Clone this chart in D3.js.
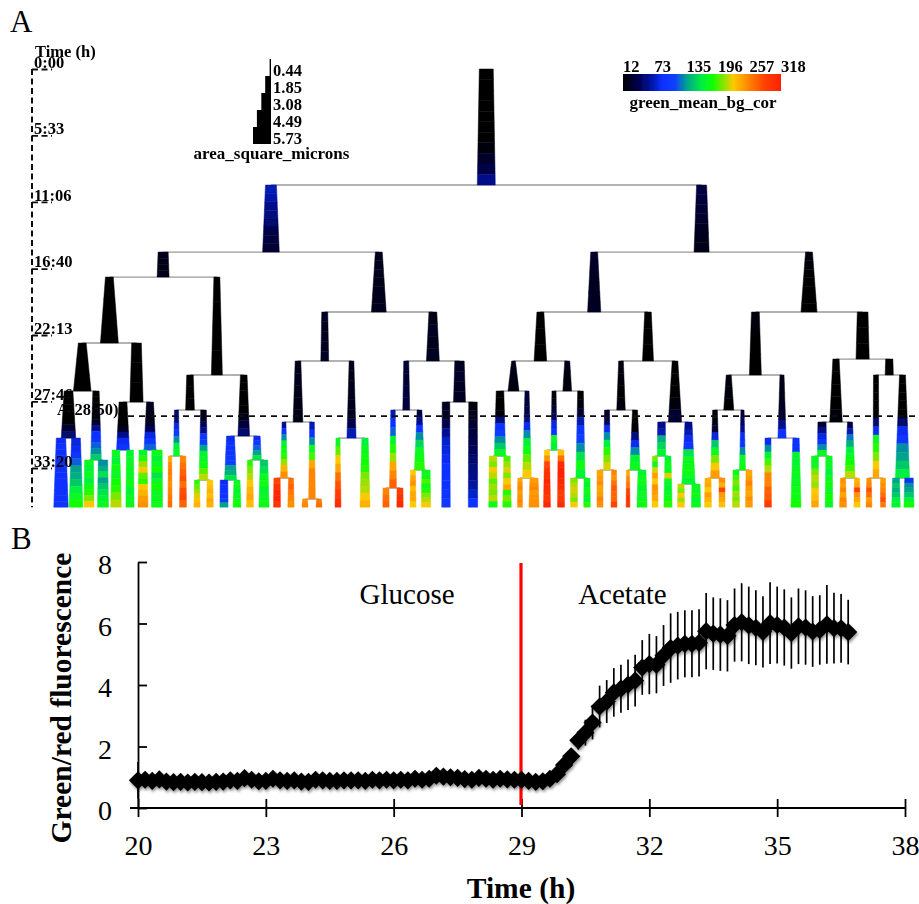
<!DOCTYPE html>
<html>
<head>
<meta charset="utf-8">
<style>
    body { margin: 0; background: #fff; }
    text { font-family: "Liberation Serif", serif; fill: #000; }
</style>
<script src="https://cdn.jsdelivr.net/npm/d3@7"></script>
</head>
<body>
<div id="draw"></div>
<script>
// panel A: time axis
const timeTickHours = [0, 5.55, 11.1, 16.67, 22.22, 27.77, 33.33];
const timeTickLabels = ['0:00', '5:33', '11:06', '16:40', '22:13', '27:46', '33:20'];
const lastHour = 36.6;
const cutoffHour = 29;

// panel A: legends
const areaLegendValues = [0.44, 1.85, 3.08, 4.49, 5.73];
const greenLegendValues = [12, 73, 135, 196, 257, 318];
const greenStops = [12, 40, 62, 88, 113, 134, 165, 186, 211, 226, 257, 287, 318];
const greenColors = ['#000000', '#00004a', '#001090', '#0a30ff', '#1040ff', '#00a090', '#00f040', '#10ff00', '#a0e000', '#ffc800', '#ff8000', '#ff4000', '#ff2000'];

// panel A: dividing cells [id, division hour, area at birth, area at division, green top to bottom]
const innerBranches = [
    ['r', 9.69, 4.45, 5.73, [12, 12, 12, 12, 12, 14, 14, 18, 28, 40, 60]],
    ['ra', 15.29, 3.5, 5.3, [70, 68, 60, 55, 50, 40, 35, 32]],
    ['rb', 15.29, 3.2, 4.8, [35, 35, 30, 28, 25, 22, 20]],
    ['raa', 17.38, 3.2, 3.8, [22, 22, 20, 20]],
    ['rab', 20.30, 2.2, 4.7, [22, 22, 22, 20, 22, 22, 22]],
    ['rba', 20.30, 2.2, 4.2, [28, 26, 24, 24, 24, 24]],
    ['rbb', 20.30, 2.2, 5.1, [18, 16, 14, 14, 14, 14, 14]],
    ['raaa', 22.89, 2.5, 5.7, [12, 12, 12]],
    ['raab', 25.56, 1.9, 3.5, [14, 14, 14, 14]],
    ['raba', 24.39, 1.9, 2.5, [24, 22, 24, 24, 24]],
    ['rabb', 24.39, 2.5, 4.1, [20, 24, 22, 24]],
    ['rbaa', 24.39, 2.2, 4, [14, 14, 14]],
    ['rbab', 24.39, 2.1, 3.5, [14, 14, 14]],
    ['rbba', 25.56, 2.5, 3.8, [16, 14, 14]],
    ['rbbb', 24.23, 3.4, 4.2, [12, 12, 12]],
    ['raaaa', 26.90, 2.5, 5.6, [12, 12, 12]],
    ['raaab', 27.82, 3.1, 4.2, [12, 12, 12]],
    ['raaba', 28.49, 2.1, 2.8, [14, 14, 14]],
    ['raabb', 30.66, 2.1, 3.7, [14, 14, 14, 14, 14, 20, 35, 50]],
    ['rabaa', 29.49, 1.8, 3.1, [20, 22, 20, 20, 20]],
    ['rabab', 30.83, 1.5, 2.9, [20, 20, 22, 22, 22, 24, 40, 70]],
    ['rabba', 28.49, 1.6, 2.2, [30, 30, 35, 35]],
    ['rabbb', 27.82, 3, 3.8, [24, 28, 24, 24]],
    ['rbaaa', 26.90, 1.2, 3.5, [22, 20, 18]],
    ['rbaab', 26.90, 1.6, 2.8, [22, 18, 16]],
    ['rbaba', 28.49, 1.5, 2.7, [18, 16, 14, 16]],
    ['rbabb', 29.49, 1.8, 4.2, [14, 14, 14, 18, 30]],
    ['rbbaa', 28.49, 1.6, 3.2, [18, 16, 14]],
    ['rbbab', 30.83, 1.3, 2.6, [20, 20, 22, 26, 30, 60, 90]],
    ['rbbba', 29.49, 2, 4, [14, 14, 14, 14, 18]],
    ['rbbbb', 25.56, 2.3, 2.6, [12, 12]],
    ['raaaaa', 30.83, 2.8, 4.6, [12, 12, 12, 12, 12, 30, 50]],
    ['raaaab', 32.66, 2, 3.4, [14, 14, 14, 16, 18, 28, 60, 90, 95, 120, 130, 150]],
    ['raaaba', 31.83, 2.5, 4.1, [14, 14, 14, 14, 24, 60, 85, 95]],
    ['raaabb', 31.83, 2.2, 3.8, [24, 20, 20, 24, 45, 80, 95, 120]],
    ['raabaa', 32.33, 1.3, 1.9, [50, 55, 80, 100, 130, 165, 175]],
    ['raabab', 34.34, 1.8, 2.8, [22, 24, 45, 60, 95, 110, 135, 170, 175, 180, 200, 215]],
    ['raabba', 34.34, 2.5, 3.8, [85, 90, 95, 95, 100, 110, 135, 140, 160]],
    ['raabbb', 32.66, 2, 2.8, [85, 100, 120, 135, 160]],
    ['rabaaa', 34.17, 1.2, 2.2, [60, 90, 130, 170, 180, 190, 210, 235, 250]],
    ['rabaab', 35.92, 1.5, 2.1, [70, 90, 130, 175, 195, 240, 255, 255, 255, 255]],
    ['rabbaa', 35.0, 1.4, 2.2, [70, 90, 120, 170, 190, 210, 240, 255, 270]],
    ['rabbab', 33.5, 1.5, 3.2, [40, 60, 95, 130, 155, 175, 180, 190]],
    ['rbaaaa', 32.33, 2.4, 3.6, [12, 14, 14, 18, 55, 90, 110, 130, 150, 175]],
    ['rbaaab', 34.17, 1.3, 2.8, [35, 35, 40, 60, 85, 130, 170, 180, 200, 215, 225]],
    ['rbaaba', 31.83, 1.3, 1.9, [18, 22, 30, 45, 80, 90, 175, 170]],
    ['rbaabb', 34.17, 1.8, 2.9, [14, 18, 30, 70, 95, 110, 130, 160, 180, 170]],
    ['rbabaa', 33.5, 1.6, 2.2, [30, 40, 85, 130, 165, 190, 205, 220]],
    ['rbabab', 33.5, 1.6, 3.2, [12, 14, 18, 55, 85, 130, 170, 175]],
    ['rbabba', 32.33, 2.4, 2.7, [60, 70, 140, 155, 170]],
    ['rbabbb', 34.67, 2.2, 4.2, [60, 70, 85, 95, 160, 175, 178, 180, 170]],
    ['rbbaaa', 34.17, 1.5, 2.8, [18, 18, 30, 80, 150, 175, 205, 225, 245]],
    ['rbbaab', 33.5, 1, 1.9, [30, 45, 60, 85, 95, 130, 175, 180]],
    ['rbbbaa', 32.33, 2.6, 2.9, [30, 60, 80, 95, 130, 175]],
    ['rbbbab', 34.17, 1.6, 3.2, [40, 70, 125, 140, 165, 175, 185, 195, 215]],
    ['rbbbba', 34.17, 1.6, 1.9, [12, 12, 14, 14, 14, 50, 85, 175, 190, 205, 225, 240]],
    ['rbbbbb', 34.17, 1.9, 4.5, [12, 12, 12, 12, 14, 50, 85, 95, 130, 135, 150, 165]]
];

// panel A: last generation [id, track, area at birth, area at end, green top to bottom]
const leafBranches = [
    ['raaaaaa', 6, 3.0, 4.6, [85, 88, 88, 90, 88, 90, 88, 88, 90, 88, 90, 95]],
    ['raaaaab', 21, 2.8, 4.4, [80, 85, 95, 120, 135, 140, 150, 165, 175, 185]],
    ['raaaaba', 34, 2.8, 3.2, [175, 170, 175, 165, 180, 190, 205, 225]],
    ['raaaabb', 48, 3.0, 3.5, [130, 140, 160, 135, 150, 160, 170, 175]],
    ['raaabaa', 61, 2.4, 3.4, [175, 170, 180, 175, 185, 190, 205, 215]],
    ['raaabab', 75, 2.2, 2.6, [170, 175, 175, 175, 175, 180, 170, 175, 175]],
    ['raaabba', 88, 2.5, 3.2, [170, 190, 210, 225, 200, 190, 225, 235, 245, 250]],
    ['raaabbb', 102, 3.3, 3.5, [180, 170, 175, 185, 160, 175, 185, 175, 175, 180]],
    ['raabaaa', 115, 1.1, 1.3, [240, 255, 260, 255, 250, 255, 260, 265]],
    ['raabaab', 128, 1.8, 2.2, [255, 265, 270, 280, 265, 280, 285, 270]],
    ['raababa', 142, 1.6, 2, [190, 200, 210, 220, 230, 235]],
    ['raababb', 155, 1.8, 2.1, [225, 230, 235, 230, 240, 235]],
    ['raabbaa', 169, 2.4, 2.6, [85, 88, 90, 90, 110, 135]],
    ['raabbab', 182, 1.9, 2.5, [175, 178, 170, 175, 180, 185]],
    ['raabbba', 195, 1.6, 2.2, [190, 205, 215, 225, 235, 240, 230]],
    ['raabbbb', 209, 2.4, 3.2, [150, 160, 175, 180, 170, 175, 178]],
    ['rabaaaa', 222, 2, 2.2, [285, 300, 310, 315, 300]],
    ['rabaaab', 236, 1.6, 2, [265, 270, 260, 255, 250]],
    ['rabaaba', 250, 1.6, 1.9, [250, 255]],
    ['rabaabb', 264, 1.6, 1.9, [260, 265]],
    ['rababa', 283, 1.3, 1.9, [175, 200, 225, 240, 265, 280, 290, 305]],
    ['rababb', 310, 2, 3.2, [165, 175, 180, 185, 190, 205, 210, 215, 225, 235]],
    ['rabbaaa', 331, 1.9, 2, [255, 265, 270]],
    ['rabbaab', 345, 1.9, 2, [290, 300, 305]],
    ['rabbaba', 358, 1.6, 1.9, [225, 240, 250, 230, 240, 240, 225]],
    ['rabbabb', 371, 2.6, 3, [175, 180, 195, 180, 190, 205, 215, 225]],
    ['rabbba', 391, 2.4, 2.7, [24, 24, 40, 62, 75, 80, 85, 88, 88, 90, 95, 100]],
    ['rabbbb', 418, 2.7, 3, [18, 22, 30, 35, 40, 45, 50, 55, 60, 65, 75, 90]],
    ['rbaaaaa', 438, 2.4, 2.7, [215, 205, 225, 215, 200, 210, 205, 215, 180]],
    ['rbaaaab', 452, 2, 2.7, [195, 210, 220, 205, 225, 240, 190, 205, 190]],
    ['rbaaaba', 465, 1.4, 1.6, [240, 250, 255, 245, 250, 255, 250]],
    ['rbaaabb', 479, 2.6, 3.2, [245, 250, 255, 245, 250, 250, 250]],
    ['rbaabaa', 492, 1.6, 2.2, [225, 250, 285, 300, 305, 310, 305, 300, 295, 310]],
    ['rbaabab', 506, 1.9, 2.2, [230, 265, 305, 315, 315, 310, 305, 290, 295, 305]],
    ['rbaabba', 519, 2.2, 2.2, [205, 215, 220, 215, 205, 225]],
    ['rbaabbb', 532, 1.9, 2.1, [175, 170, 180, 175, 170, 190]],
    ['rbabaaa', 545, 1.9, 1.9, [240, 245, 250, 240, 245, 255, 250]],
    ['rbabaab', 559, 1.6, 1.9, [255, 250, 265, 275, 270, 270, 285]],
    ['rbababa', 573, 1, 1.2, [240, 255, 265, 290, 300, 295]],
    ['rbababb', 587, 2.5, 3.2, [170, 175, 178, 170, 175, 175, 180]],
    ['rbabbaa', 600, 1.6, 1.9, [205, 175, 220, 245, 225, 250, 245, 240, 225]],
    ['rbabbab', 613, 1.9, 2.6, [170, 180, 175, 220, 175, 170, 175, 178, 190]],
    ['rbabbba', 626, 2, 2.2, [215, 205, 225, 210, 225]],
    ['rbabbbb', 641, 2.6, 2.9, [175, 175, 178, 170, 175]],
    ['rbbaaaa', 653, 1.9, 2.2, [235, 240, 225, 245, 235, 225]],
    ['rbbaaab', 667, 1.9, 1.9, [250, 235, 285, 245, 240, 230]],
    ['rbbaaba', 681, 1.9, 2.2, [175, 195, 205, 195, 210, 205, 215]],
    ['rbbaabb', 694, 1.9, 2.2, [240, 245, 255, 245, 240, 250, 245]],
    ['rbbaba', 713, 1.9, 2.2, [85, 130, 170, 195, 215, 255, 255, 270, 275, 290]],
    ['rbbabb', 741, 2, 3.2, [90, 90, 170, 170, 175, 175, 175, 180, 180, 185]],
    ['rbbbaaa', 760, 2.2, 2.2, [175, 175, 205, 215, 210, 225, 230, 240]],
    ['rbbbaab', 774, 2, 2.4, [175, 175, 165, 175, 180, 175, 185, 175]],
    ['rbbbaba', 788, 1.6, 2.2, [250, 245, 255, 240, 255, 250]],
    ['rbbbabb', 802, 1.6, 2, [235, 240, 290, 250, 240, 225]],
    ['rbbbbaa', 814, 1.4, 1.9, [250, 255, 280, 265, 245, 255]],
    ['rbbbbab', 828, 1.6, 1.6, [245, 250, 255, 265, 280, 260]],
    ['rbbbbba', 841, 2.2, 2.7, [135, 150, 140, 150, 165, 170]],
    ['rbbbbbb', 854, 2.7, 3.2, [90, 130, 135, 150, 165, 185]]
];

// panel B: ratio read every 10 min from 20 h
const ratioStartHour = 20;
const ratioStepHour = 1 / 6;
const ratioValues = [
    0.9, 0.92, 0.88, 0.93, 0.86, 0.84, 0.85, 0.83, 0.85, 0.84, 0.83, 0.85, 0.86, 0.9, 0.88, 0.97,
    0.92, 0.87, 0.88, 0.95, 0.9, 0.88, 0.9, 0.86, 0.85, 0.92, 0.9, 0.88, 0.88, 0.9,
    0.9, 0.9, 0.88, 0.92, 0.9, 0.92, 0.9, 0.92, 0.9, 0.95, 0.92, 0.95, 1.05, 1.02, 1.0, 0.98,
    0.94, 0.92, 0.98, 0.95, 0.92, 0.95, 0.93, 0.92,
    0.92, 0.88, 0.85, 0.87, 0.95, 1.1, 1.4, 1.68, 2.2, 2.45, 2.78, 3.3, 3.46, 3.76, 3.88, 4.01, 4.14,
    4.57, 4.68, 4.66, 4.96, 5.2, 5.28, 5.34, 5.34, 5.37, 5.75, 5.67, 5.64, 5.6, 5.95, 6.04, 5.94,
    5.86, 5.73, 6.01, 5.95, 5.87, 5.69, 5.91, 5.87, 5.74, 5.79, 5.97, 5.85, 5.84, 5.72
];
const ratioErrors = [
    0.6, 0.08, 0.08, 0.08, 0.08, 0.08, 0.08, 0.08, 0.08, 0.08, 0.08, 0.08, 0.08, 0.08, 0.08, 0.08,
    0.08, 0.08, 0.08, 0.08, 0.08, 0.08, 0.08, 0.08, 0.08, 0.08, 0.08, 0.08, 0.08, 0.08,
    0.08, 0.08, 0.08, 0.08, 0.08, 0.08, 0.08, 0.08, 0.08, 0.08, 0.08, 0.08, 0.08, 0.08, 0.08, 0.08,
    0.08, 0.08, 0.08, 0.08, 0.08, 0.08, 0.08, 0.08,
    0.08, 0.08, 0.08, 0.08, 0.1, 0.12, 0.15, 0.2, 0.3, 0.42, 0.55, 0.68, 0.7, 0.79, 0.78, 0.82, 0.84,
    0.89, 0.98, 0.93, 0.99, 1.13, 1.1, 1.09, 1.09, 1.09, 1.24, 1.18, 1.18, 1.16, 1.19, 1.27, 1.26,
    1.22, 1.16, 1.33, 1.25, 1.24, 1.16, 1.23, 1.21, 1.15, 1.13, 1.28, 1.15, 1.12, 1.05
];
const mediaLabels = [['Glucose', 25.2], ['Acetate', 30.33]];
const switchHour = 29;

let width = 919,
    height = 904;

let svg = d3.select('#draw')
    .append('svg')
    .attr('width', width)
    .attr('height', height);

let defs = svg.append('defs');
defs.append('filter').attr('id', 'soft')
    .append('feGaussianBlur').attr('stdDeviation', 0.45);
defs.append('filter').attr('id', 'shadow')
    .attr('x', '-5%').attr('y', '-20%').attr('width', '110%').attr('height', '150%')
    .append('feDropShadow')
    .attr('dx', 1).attr('dy', 2).attr('stdDeviation', 1.5)
    .attr('flood-color', '#000').attr('flood-opacity', 0.45);

svg.append('text').attr('x', 10).attr('y', 32).attr('font-size', 31).text('A');
svg.append('text').attr('x', 11).attr('y', 549).attr('font-size', 31).text('B');

/* ---------- panel A ---------- */
let treeG = svg.append('g').attr('filter', 'url(#soft)');

let timeScale = d3.scaleLinear().domain([0, 33.33]).range([69, 468]),
    trackScale = d3.scaleLinear().domain([0, 860]).range([55, 915]),
    areaScale = d3.scaleLinear().domain([0, 5.73]).range([0, 18]),
    greenColor = d3.scaleLinear().domain(greenStops).range(greenColors);

// rows of both tables go into one hierarchy, the parent id is the id minus its last letter
let rows = innerBranches.map(d => ({ id: d[0], end: d[1], a0: d[2], a1: d[3], greens: d[4] }))
    .concat(leafBranches.map(d => ({ id: d[0], end: lastHour, track: d[1], a0: d[2], a1: d[3], greens: d[4] })));

let root = d3.stratify()
    .id(d => d.id)
    .parentId(d => d.id.length > 1 ? d.id.slice(0, -1) : null)(rows);

root.eachAfter(n => {
    n.track = n.children ? d3.mean(n.children, c => c.track) : n.data.track;
    n.start = n.parent ? n.parent.data.end : 0;
});

treeG.append('g').selectAll('path')
    .data(root.descendants().filter(n => n.children))
    .enter().append('path')
    .attr('d', n => d3.line()([
        [trackScale(n.children[0].track), timeScale(n.data.end)],
        [trackScale(n.children[1].track), timeScale(n.data.end)]
    ]))
    .attr('fill', 'none')
    .attr('stroke', '#999')
    .attr('stroke-width', 1.3);

let band = d3.area().y(d => d.y).x0(d => d.x - d.w / 2).x1(d => d.x + d.w / 2);

root.descendants().forEach(n => {
    let count = n.data.greens.length,
        hour = d3.interpolateNumber(n.start, n.data.end),
        area = d3.interpolateNumber(n.data.a0, n.data.a1),
        point = f => ({ x: trackScale(n.track), y: timeScale(hour(f)), w: areaScale(area(f)) });
    treeG.append('g').selectAll('path')
        .data(n.data.greens)
        .enter().append('path')
        .attr('d', (g, i) => band([point(i / count), point((i + 1) / count)]))
        .attr('fill', g => greenColor(g))
        .attr('stroke', g => greenColor(g))
        .attr('stroke-width', 0.5);
});

// time axis, dashed, ticks run to the right under the labels
let timeAxis = treeG.append('g')
    .attr('transform', 'translate(32,0)')
    .call(d3.axisRight(timeScale)
        .tickValues(timeTickHours)
        .tickFormat((d, i) => timeTickLabels[i])
        .tickSize(20)
        .tickPadding(-18));
timeAxis.select('.domain').attr('d', 'M0,' + timeScale(0) + 'V' + timeScale(lastHour))
    .attr('stroke', '#111').attr('stroke-width', 2).attr('stroke-dasharray', '6,3.5');
timeAxis.selectAll('.tick line').attr('stroke', '#111').attr('stroke-width', 1.8).attr('stroke-dasharray', '6,3.5');
timeAxis.selectAll('.tick text')
    .attr('dy', '-0.1em')
    .attr('font-family', 'Liberation Serif')
    .attr('font-weight', 'bold')
    .attr('font-size', 16.5);

treeG.append('text').attr('x', 35).attr('y', 57)
    .attr('font-weight', 'bold').attr('font-size', 16.5).text('Time (h)');

// cutoff line
treeG.append('line')
    .attr('x1', 128).attr('x2', 919)
    .attr('y1', timeScale(cutoffHour)).attr('y2', timeScale(cutoffHour))
    .attr('stroke', '#111').attr('stroke-width', 1.8).attr('stroke-dasharray', '6,5');
treeG.append('text').attr('x', 57).attr('y', 415)
    .attr('font-weight', 'bold').attr('font-size', 16.5).text('A(28:50)');

// area legend
let areaBand = d3.scaleBand().domain(areaLegendValues).range([59, 144]);
treeG.append('g').selectAll('rect')
    .data(areaLegendValues)
    .enter().append('rect')
    .attr('x', d => 271 - areaScale(d))
    .attr('y', d => areaBand(d))
    .attr('width', d => areaScale(d))
    .attr('height', areaBand.bandwidth())
    .attr('fill', '#000');
treeG.append('g').selectAll('text')
    .data(areaLegendValues)
    .enter().append('text')
    .attr('x', 273)
    .attr('y', d => areaBand(d) + 16.5)
    .attr('font-weight', 'bold').attr('font-size', 16.5)
    .text(d => d.toFixed(2));
treeG.append('text').attr('x', 271.5).attr('y', 159).attr('text-anchor', 'middle')
    .attr('font-weight', 'bold').attr('font-size', 17).text('area_square_microns');

// colour legend
let legendScale = d3.scaleLinear().domain([12, 318]).range([623, 781]);
let gradient = defs.append('linearGradient').attr('id', 'greenLegend');
gradient.selectAll('stop')
    .data(greenStops)
    .enter().append('stop')
    .attr('offset', d => (legendScale(d) - 623) / 158)
    .attr('stop-color', d => greenColor(d));
treeG.append('rect')
    .attr('x', legendScale(12)).attr('y', 74)
    .attr('width', legendScale(318) - legendScale(12)).attr('height', 17)
    .attr('fill', 'url(#greenLegend)');
treeG.append('g').selectAll('text')
    .data(greenLegendValues)
    .enter().append('text')
    .attr('x', d => legendScale(d))
    .attr('y', 72)
    .attr('font-weight', 'bold').attr('font-size', 16.5)
    .text(d => d);
treeG.append('text').attr('x', 703).attr('y', 108).attr('text-anchor', 'middle')
    .attr('font-weight', 'bold').attr('font-size', 17).text('green_mean_bg_cor');

/* ---------- panel B ---------- */
let xScale = d3.scaleLinear().domain([20, 38]).range([138, 905]),
    yScale = d3.scaleLinear().domain([0, 8]).range([808, 562]);

let ratio = ratioValues.map((v, i) => ({ hour: ratioStartHour + i * ratioStepHour, value: v, err: ratioErrors[i] }));

let xAxis = svg.append('g')
    .attr('transform', 'translate(0,808)')
    .call(d3.axisBottom(xScale).tickValues(d3.range(20, 39, 3)).tickFormat(d3.format('d')).tickSize(9).tickPadding(18).tickSizeOuter(0));
let yAxis = svg.append('g')
    .attr('transform', 'translate(138,0)')
    .call(d3.axisLeft(yScale).tickValues(d3.range(0, 9, 2)).tickSize(8).tickPadding(18).tickSizeOuter(0));

xAxis.selectAll('.tick line').attr('y1', -9);
yAxis.selectAll('.tick line').attr('x2', 9);
[xAxis, yAxis].forEach(a => {
    a.select('.domain').attr('stroke', '#000').attr('stroke-width', 1.8);
    a.selectAll('.tick line').attr('stroke', '#000').attr('stroke-width', 1.8);
    a.selectAll('.tick text').attr('font-family', 'Liberation Serif').attr('font-size', 28).attr('fill', '#000');
});
xAxis.select('.domain').attr('d', 'M' + (138 - 8) + ',0H905');
yAxis.selectAll('.tick text').attr('dy', '0.42em');

svg.append('line')
    .attr('x1', xScale(switchHour) - 0.5).attr('x2', xScale(switchHour) - 0.5)
    .attr('y1', yScale(8) + 1).attr('y2', 805)
    .attr('stroke', '#f00').attr('stroke-width', 3.2);

svg.append('g').selectAll('text')
    .data(mediaLabels)
    .enter().append('text')
    .attr('x', d => xScale(d[1]))
    .attr('y', 604)
    .attr('font-size', 29)
    .text(d => d[0]);

svg.append('g').selectAll('line')
    .data(ratio)
    .enter().append('line')
    .attr('x1', d => xScale(d.hour)).attr('x2', d => xScale(d.hour))
    .attr('y1', d => yScale(d.value - d.err)).attr('y2', d => yScale(d.value + d.err))
    .attr('stroke', '#000').attr('stroke-width', 1.7);

let diamond = d3.symbol().type(d3.symbolSquare).size(165);
svg.append('g').attr('filter', 'url(#shadow)').selectAll('path')
    .data(ratio)
    .enter().append('path')
    .attr('d', diamond)
    .attr('transform', d => 'translate(' + xScale(d.hour) + ',' + yScale(d.value) + ') rotate(45)')
    .attr('fill', '#000');

svg.append('text').attr('x', 521).attr('y', 898).attr('text-anchor', 'middle')
    .attr('font-weight', 'bold').attr('font-size', 29.5).text('Time (h)');
svg.append('text').attr('transform', 'translate(71,698) rotate(-90)').attr('text-anchor', 'middle')
    .attr('font-weight', 'bold').attr('font-size', 29.5).text('Green/red fluorescence');
</script>
</body>
</html>
